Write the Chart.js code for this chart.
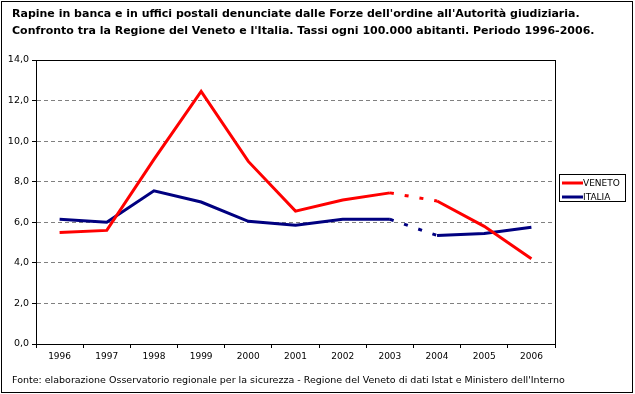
<!DOCTYPE html>
<html>
<head>
<meta charset="utf-8">
<script src="https://cdn.jsdelivr.net/npm/chart.js@4/dist/chart.umd.min.js"></script>
<style>
  html, body { margin: 0; padding: 0; background: #fff; }
</style>
</head>
<body>
<canvas id="grafico" width="635" height="394"></canvas>
<script>
// dati
const anni = ["1996", "1997", "1998", "1999", "2000", "2001", "2002", "2003", "2004", "2005", "2006"];
const veneto = [5.5, 5.6, 9.1, 12.45, 9.0, 6.55, 7.1, 7.45, 7.05, 5.8, 4.2];
const italia = [6.15, 6.0, 7.55, 7.0, 6.05, 5.85, 6.15, 6.15, 5.35, 5.45, 5.75];
const etichette = ["VENETO", "ITALIA"];
const colori = ["#ff0000", "#000080"];
const titolo = [
  "Rapine in banca e in uffici postali denunciate dalle Forze dell'ordine all'Autorità giudiziaria.",
  "Confronto tra la Regione del Veneto e l'Italia. Tassi ogni 100.000 abitanti. Periodo 1996-2006."
];
const fonte = "Fonte: elaborazione Osservatorio regionale per la sicurezza - Regione del Veneto di dati Istat e Ministero dell'Interno";
const tratteggioDa = 7; // segmento 2003-2004 tratteggiato

const FONT = "'DejaVu Sans', sans-serif";

// cornice, titolo, fonte e legenda disegnati a mano
const decorazioni = {
  id: 'decorazioni',
  afterDraw(chart) {
    const ctx = chart.ctx;
    const a = chart.chartArea;
    ctx.save();
    ctx.strokeStyle = '#000';
    ctx.lineWidth = 1;
    ctx.strokeRect(Math.round(a.left) + 0.5, Math.round(a.top) + 0.5,
      Math.round(a.right - a.left), Math.round(a.bottom - a.top));
    ctx.strokeRect(1.5, 1.5, 631, 391);

    ctx.fillStyle = '#000';
    ctx.textBaseline = 'middle';
    ctx.textAlign = 'left';
    ctx.font = "bold 11px " + FONT;
    ctx.fillText(titolo[0], 12, 14);
    ctx.fillText(titolo[1], 12, 31);

    ctx.font = "9.5px " + FONT;
    ctx.fillText(fonte, 12, 381);

    // legenda
    ctx.strokeRect(559.5, 174.5, 66, 27);
    ctx.font = "9px " + FONT;
    chart.data.datasets.forEach((ds, i) => {
      const y = 183 + i * 14;
      ctx.strokeStyle = ds.borderColor;
      ctx.lineWidth = 3;
      ctx.beginPath();
      ctx.moveTo(562, y);
      ctx.lineTo(583, y);
      ctx.stroke();
      ctx.fillStyle = '#000';
      ctx.fillText(ds.label, 583, y + 1);
    });
    ctx.restore();
  }
};

function segTratteggio(c) {
  return c.p0DataIndex === tratteggioDa ? [4, 11] : undefined;
}

new Chart(document.getElementById('grafico'), {
  type: 'line',
  data: {
    labels: anni,
    datasets: [
      { label: etichette[0], data: veneto, borderColor: colori[0] },
      { label: etichette[1], data: italia, borderColor: colori[1] }
    ].map(d => Object.assign(d, {
      borderWidth: 3,
      pointRadius: 0,
      tension: 0,
      fill: false,
      segment: { borderDash: segTratteggio }
    }))
  },
  options: {
    responsive: false,
    animation: false,
    layout: { padding: { left: 8, top: 60, right: 80, bottom: 30 } },
    plugins: {
      legend: { display: false },
      title: { display: false },
      tooltip: { enabled: false }
    },
    scales: {
      x: {
        offset: true,
        afterFit: s => { s.height = 20; },
        grid: {
          offset: true,
          drawOnChartArea: false,
          tickLength: 4,
          tickColor: '#000'
        },
        border: { color: '#000' },
        ticks: { color: '#000', font: { family: FONT, size: 9 }, padding: 3, maxRotation: 0, autoSkip: false }
      },
      y: {
        min: 0,
        max: 14,
        afterFit: s => { s.width = 28; },
        grid: {
          color: '#808080',
          tickLength: 4,
          tickColor: '#000'
        },
        border: { color: '#000', dash: [4, 3] },
        ticks: {
          stepSize: 2,
          color: '#000',
          padding: 3,
          font: { family: FONT, size: 9.5 },
          callback: v => v.toFixed(1).replace('.', ',')
        }
      }
    }
  },
  plugins: [decorazioni]
});
</script>
</body>
</html>
